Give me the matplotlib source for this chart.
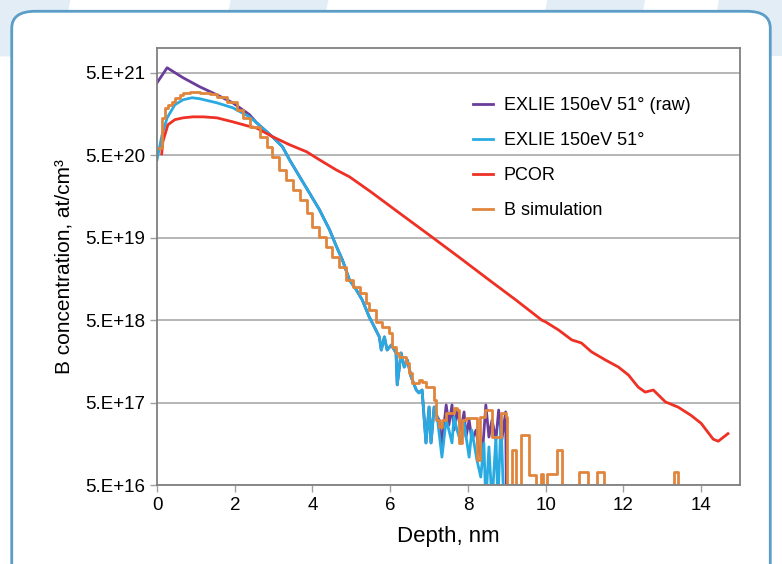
import matplotlib
matplotlib.use('Agg')
import matplotlib.pyplot as plt
from matplotlib.patches import FancyBboxPatch, Polygon

plt.rcParams['font.family'] = ['Liberation Sans', 'DejaVu Sans']

# EXLIE 150eV 51 deg (raw)
raw_x = [0, 0.26, 0.67, 1.10, 1.54, 1.95, 2.38, 2.56, 2.97, 3.23, 3.41, 3.67, 3.92, 4.18,
         4.44, 4.62, 4.77, 4.95, 5.13, 5.28, 5.46, 5.54, 5.72, 5.77, 5.85, 5.92, 6.03,
         6.15, 6.18, 6.28, 6.36, 6.44, 6.54, 6.67, 6.74, 6.82, 6.92, 7.00, 7.05, 7.13,
         7.21, 7.26, 7.33, 7.44, 7.51, 7.59, 7.64, 7.72, 7.82, 7.90, 7.95, 8.03, 8.10,
         8.21, 8.28, 8.36, 8.46, 8.54, 8.62, 8.72, 8.79, 8.87, 8.97, 9.00]
raw_y = [3.78e21, 5.75e21, 4.35e21, 3.38e21, 2.70e21, 2.16e21, 1.55e21, 1.24e21, 8.36e20,
         6.32e20, 4.4e20, 2.74e20, 1.75e20, 1.09e20, 6.22e19, 3.87e19, 2.69e19, 1.54e19,
         1.16e19, 8.79e18, 5.47e18, 4.62e18, 3.13e18, 2.17e18, 3.13e18, 2.17e18, 2.50e18,
         2.0e18, 8.2e17, 2.0e18, 1.35e18, 1.64e18, 1.02e18, 7.11e17, 6.55e17, 7.11e17,
         1.62e17, 4.42e17, 1.62e17, 4.42e17, 3.34e17, 3.08e17, 1.55e17, 4.68e17, 2.67e17,
         4.68e17, 2.32e17, 4.06e17, 2.32e17, 3.85e17, 1.91e17, 3.08e17, 1.76e17, 2.32e17,
         1.33e17, 1.01e17, 4.68e17, 1.91e17, 3.08e17, 1.76e17, 4.06e17, 1.76e17, 3.85e17,
         1e16]

# EXLIE 150eV 51 deg
exlie_x = [0, 0.13, 0.26, 0.46, 0.67, 0.90, 1.10, 1.54, 1.95, 2.38, 2.56, 2.97, 3.23, 3.41,
           3.67, 3.92, 4.18, 4.44, 4.62, 4.77, 4.95, 5.13, 5.28, 5.46, 5.54, 5.72, 5.77,
           5.85, 5.92, 6.03, 6.15, 6.18, 6.28, 6.36, 6.44, 6.54, 6.67, 6.74, 6.82, 6.92,
           7.00, 7.05, 7.13, 7.21, 7.33, 7.44, 7.51, 7.59, 7.64, 7.72, 7.82, 7.90, 8.03,
           8.10, 8.23, 8.33, 8.41, 8.46, 8.54, 8.62, 8.72, 8.77, 8.85, 8.92]
exlie_y = [4.4e20, 8.85e20, 1.42e21, 2.05e21, 2.35e21, 2.49e21, 2.42e21, 2.16e21, 1.88e21,
           1.46e21, 1.24e21, 8.36e20, 6.32e20, 4.4e20, 2.74e20, 1.75e20, 1.09e20, 6.22e19,
           3.87e19, 2.69e19, 1.54e19, 1.16e19, 8.79e18, 5.47e18, 4.62e18, 3.13e18, 2.17e18,
           3.13e18, 2.17e18, 2.50e18, 2.0e18, 8.2e17, 2.0e18, 1.35e18, 1.64e18, 1.02e18,
           7.11e17, 6.55e17, 7.11e17, 1.62e17, 4.42e17, 1.62e17, 4.42e17, 3.34e17, 1.09e17,
           3.08e17, 2.32e17, 1.62e17, 3.34e17, 2.32e17, 1.62e17, 2.83e17, 1.09e17, 2.32e17,
           1.01e17, 6.25e16, 1.62e17, 3e16, 1.45e17, 3e16, 1.91e17, 3e16, 3.08e17, 3e16]

# PCOR
pcor_x = [0.12, 0.15, 0.28, 0.46, 0.67, 0.92, 1.18, 1.54, 1.95, 2.31, 2.56, 2.97, 3.41, 3.85,
          4.18, 4.62, 4.95, 5.50, 6.23, 7.00, 7.77, 8.54, 9.23, 9.90, 10.0, 10.33, 10.67,
          10.92, 11.18, 11.54, 11.87, 12.13, 12.38, 12.56, 12.77, 13.08, 13.41, 13.74, 14.0,
          14.31, 14.44, 14.69]
pcor_y = [5.2e20, 7.3e20, 1.17e21, 1.35e21, 1.42e21, 1.46e21, 1.46e21, 1.42e21, 1.27e21,
          1.14e21, 1.07e21, 8.4e20, 6.7e20, 5.5e20, 4.4e20, 3.3e20, 2.74e20, 1.8e20, 1.0e20,
          5.4e19, 2.9e19, 1.54e19, 8.8e18, 5.0e18, 4.75e18, 3.8e18, 2.88e18, 2.64e18,
          2.06e18, 1.64e18, 1.35e18, 1.08e18, 7.7e17, 6.7e17, 7.1e17, 5.1e17, 4.4e17,
          3.5e17, 2.8e17, 1.8e17, 1.7e17, 2.1e17]

# B simulation (step profile: value holds from each depth to the next)
sim_x = [0, 0.13, 0.21, 0.28, 0.38, 0.46, 0.59, 0.67, 0.85, 1.10, 1.36, 1.54, 1.79, 2.05,
         2.21, 2.38, 2.64, 2.82, 2.97, 3.15, 3.33, 3.49, 3.67, 3.85, 4.00, 4.18, 4.36, 4.51,
         4.69, 4.87, 5.03, 5.21, 5.38, 5.46, 5.64, 5.79, 5.97, 6.05, 6.15, 6.23, 6.41, 6.49,
         6.56, 6.74, 6.82, 6.92, 7.13, 7.18, 7.26, 7.33, 7.44, 7.64, 7.72, 7.77, 7.85, 7.95,
         8.23, 8.30, 8.45, 8.62, 8.85, 8.97, 9.00, 9.13, 9.23, 9.36, 9.56, 9.74, 9.87, 9.92,
         10.03, 10.30, 10.41, 10.85, 11.10, 11.31, 11.51, 13.31, 13.41, 15.0]
sim_y = [6.15e20, 1.42e21, 1.88e21, 2.05e21, 2.22e21, 2.49e21, 2.70e21, 2.86e21, 2.94e21,
         2.86e21, 2.78e21, 2.56e21, 2.22e21, 1.78e21, 1.42e21, 1.11e21, 8.36e20, 6.32e20,
         4.79e20, 3.33e20, 2.52e20, 1.90e20, 1.44e20, 1.00e20, 6.76e19, 5.12e19, 3.87e19,
         2.92e19, 2.21e19, 1.54e19, 1.26e19, 1.07e19, 8.09e18, 6.65e18, 4.75e18, 4.14e18,
         3.50e18, 2.37e18, 2.0e18, 1.79e18, 1.51e18, 1.14e18, 8.65e17, 9.40e17, 8.89e17,
         7.73e17, 5.38e17, 3.08e17, 2.53e17, 3.08e17, 3.74e17, 4.30e17, 4.06e17, 1.62e17,
         3.08e17, 3.25e17, 1.01e17, 3.34e17, 4.06e17, 1.91e17, 3.74e17, 3.34e17, 1e16,
         1.33e17, 1e16, 2.02e17, 6.6e16, 1e16, 6.9e16, 1e16, 6.8e16, 1.33e17, 1e16, 7.2e16,
         1e16, 7.2e16, 1e16, 7.2e16, 1e16, 1e16]

y_ticks = [5e16, 5e17, 5e18, 5e19, 5e20, 5e21]
y_labels = ['5.E+16', '5.E+17', '5.E+18', '5.E+19', '5.E+20', '5.E+21']
x_ticks = [0, 2, 4, 6, 8, 10, 12, 14]

fig = plt.figure(figsize=(7.82, 5.64), dpi=100)

# background decoration: faint stripes at top and rounded blue frame
for xs in [(0, 0.09, 0.075, -0.015), (0.295, 0.42, 0.405, 0.28), (0.70, 0.825, 0.81, 0.685),
           (0.92, 1.0, 1.0, 0.905)]:
    fig.patches.append(Polygon([(xs[0], 1.0), (xs[1], 1.0), (xs[2], 0.9), (xs[3], 0.9)],
                               closed=True, transform=fig.transFigure, facecolor='#e2edf5',
                               edgecolor='none', zorder=0))
fig.patches.append(FancyBboxPatch((0.015, -0.05), 0.97, 1.03,
                                  boxstyle='round,pad=0,rounding_size=0.03',
                                  transform=fig.transFigure, facecolor='white',
                                  edgecolor='#5b9dc6', linewidth=2, zorder=1))

ax = fig.add_axes([0.2008, 0.140, 0.7455, 0.775])
ax.set_zorder(3)
ax.set_yscale('log')

ax.plot(raw_x, raw_y, color='#6a3d9a', lw=2, label='EXLIE 150eV 51° (raw)')
ax.plot(exlie_x, exlie_y, color='#29abe2', lw=2, label='EXLIE 150eV 51°')
ax.plot(pcor_x, pcor_y, color='#ee3124', lw=2, label='PCOR')
ax.plot(sim_x, sim_y, color='#e0853c', lw=2, drawstyle='steps-post', label='B simulation')

ax.set_xlim(0, 15)
ax.set_ylim(5e16, 1e22)
ax.set_yticks(y_ticks)
ax.set_yticklabels(y_labels)
ax.yaxis.set_minor_locator(matplotlib.ticker.NullLocator())
ax.set_xticks(x_ticks)
ax.tick_params(axis='both', labelsize=13.5, length=5, width=1, color='#a0a0a0', direction='out')
ax.grid(axis='y', color='#b0b0b0', lw=1.3)
ax.set_axisbelow(True)
for s in ax.spines.values():
    s.set_color('#808080')
    s.set_linewidth(1.3)

ax.set_xlabel('Depth, nm', fontsize=16, labelpad=9)
ax.set_ylabel('B concentration, at/cm³', fontsize=15, labelpad=8.5)

ax.legend(loc='upper left', bbox_to_anchor=(0.5935, 0.844), bbox_transform=fig.transFigure,
          frameon=False, fontsize=13, borderpad=0, handlelength=1.1, handletextpad=0.6,
          labelspacing=1.0)

fig.savefig('out.png', dpi=100)
